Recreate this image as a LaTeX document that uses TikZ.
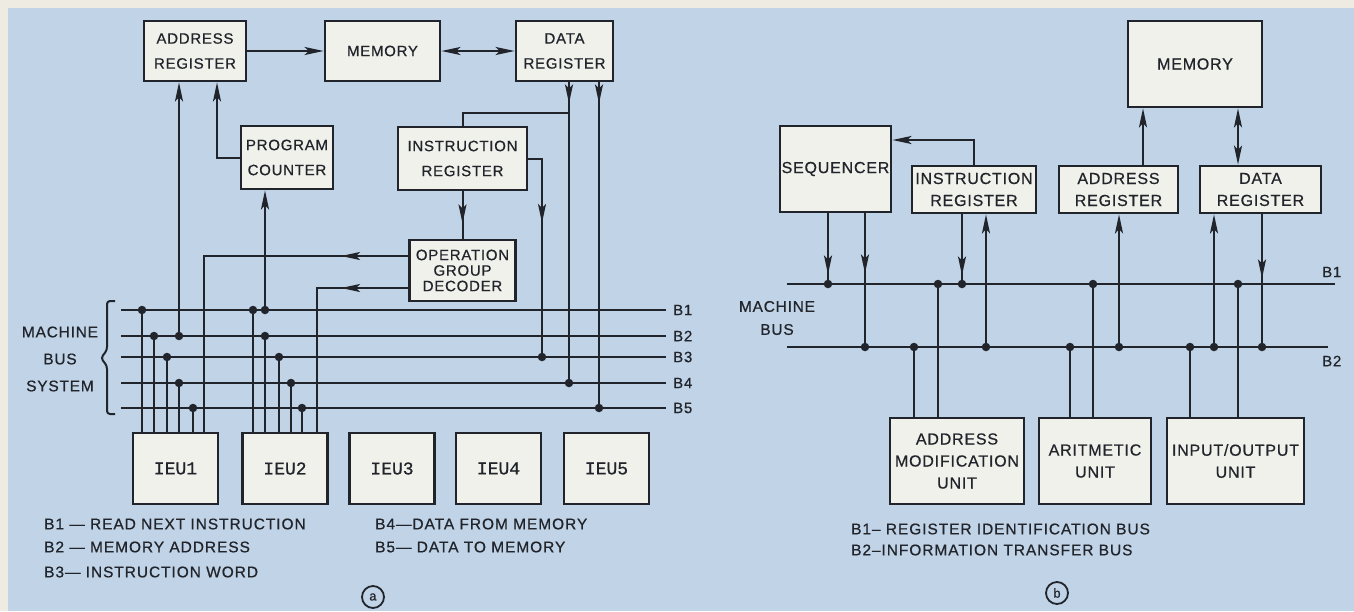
\documentclass[tikz,border=0pt]{standalone}
\usepackage{fontspec}
\setmainfont{Liberation Sans}
\newfontfamily\boxfont{Liberation Sans}[FakeBold=0.6, LetterSpace=5]
\newfontfamily\legfont{Liberation Sans}[FakeBold=0.6, LetterSpace=6]
\newfontfamily\ieufont{Liberation Mono}[FakeBold=0.8]
\usetikzlibrary{arrows.meta,decorations.markings}
\definecolor{bgblue}{RGB}{193,211,231}
\definecolor{paper}{RGB}{238,235,226}
\definecolor{boxfill}{RGB}{241,241,236}
\definecolor{ink}{RGB}{33,36,42}
\tikzset{
  box/.style={draw=ink, line width=2.8pt, fill=boxfill, align=center, inner sep=0pt, text=ink},
  lbox/.style={box, font=\boxfont\fontsize{15}{25}\selectfont},
  rbox/.style={box, font=\boxfont\fontsize{16}{22}\selectfont},
  ieubox/.style={box, font=\ieufont\fontsize{18}{20}\selectfont, minimum width=85pt, minimum height=71pt},
  wire/.style={draw=ink, line width=2pt},
  tip/.style={-{Stealth[length=19pt,width=8pt,inset=4pt]}},
  bitip/.style={{Stealth[length=19pt,width=8pt,inset=4pt]}-{Stealth[length=19pt,width=8pt,inset=4pt]}},
  midtip/.style={postaction={decorate}, decoration={markings, mark=at position #1 with {\arrow{Stealth[length=19pt,width=8pt,inset=4pt]}}}},
  dot/.style={circle, fill=ink, inner sep=0pt, minimum size=8.5pt},
  lbl/.style={text=ink, inner sep=0pt, font=\boxfont\fontsize{15}{18}\selectfont},
  leg/.style={text=ink, inner sep=0pt, anchor=west, font=\legfont\fontsize{15.5}{18}\selectfont},
  tag/.style={circle, draw=ink, line width=1.8pt, inner sep=0pt, minimum size=22pt, text=ink, font=\ieufont\fontsize{13}{13}\selectfont},
}
\begin{document}
\begin{tikzpicture}[x=1pt,y=-1pt]
\useasboundingbox (0,0) rectangle (1354,611);
\fill[paper] (0,0) rectangle (1354,611);
\fill[bgblue] (8,8) rectangle (1354,611);

% ================= (a) =================
\node[lbox, minimum width=102pt, minimum height=60pt] (ar) at (195,51) {ADDRESS\\REGISTER};
\node[lbox, minimum width=115pt, minimum height=60pt] (mem) at (382.5,51) {MEMORY};
\node[lbox, minimum width=97pt, minimum height=60pt] (dr) at (564.5,51) {DATA\\REGISTER};
\node[lbox, minimum width=92pt, minimum height=63pt] (pc) at (287,157.5) {PROGRAM\\COUNTER};
\node[lbox, minimum width=129pt, minimum height=63pt] (ir) at (462.5,158.5) {INSTRUCTION\\REGISTER};
\node[lbox, font=\boxfont\fontsize{15}{15.5}\selectfont, minimum width=106pt, minimum height=61pt] (ogd) at (462.5,270.5) {OPERATION\\GROUP\\DECODER};
\foreach \i/\x in {1/175.5,2/285,3/392,4/498.5,5/606.5}
  \node[ieubox] (ieu\i) at (\x,468.5) {IEU\i};

% buses
\foreach \k/\y in {1/310,2/336,3/357,4/383,5/408} {
  \coordinate (LBw\k) at (121,\y);
  \coordinate (LBe\k) at (666,\y);
  \draw[wire] (LBw\k) -- (LBe\k);
  \node[lbl, anchor=west] (LBt\k) at (673,\y) {B\k};
}

% IEU taps
\foreach \x/\y [count=\i] in {142/310,154/336,167/357,179/383,193/408} {
  \node[dot] (ua\i) at (\x,\y) {};
  \draw[wire] (ua\i.center) -- (ua\i.center |- ieu1.north);
}
\foreach \x/\y [count=\i] in {253/310,265/336,279/357,291/383,302/408} {
  \node[dot] (ub\i) at (\x,\y) {};
  \draw[wire] (ub\i.center) -- (ub\i.center |- ieu2.north);
}

% register connections
\node[dot] (arD) at (179,336) {};
\draw[wire,tip] (arD.center) -- (arD.center |- ar.south);
\node[dot] (pcD) at (265,310) {};
\draw[wire,tip] (pcD.center) -- (pcD.center |- pc.south);
\draw[wire,tip] (pc.west) -| ([xshift=22pt]ar.south);
\draw[wire,tip] (ar.east) -- (mem.west);
\draw[wire,bitip] (mem.east) -- (dr.west);
\node[dot] (dB3) at (542,357) {};
\node[dot] (dB4) at (569,383) {};
\node[dot] (dB5) at (599,408) {};
\draw[wire,midtip=21pt] (dB4.center |- dr.south) -- (dB4.center);
\draw[wire,midtip=21pt] (dB5.center |- dr.south) -- (dB5.center);
\coordinate (j1) at (569,113);
\draw[wire] (j1) -| (ir.north);
\draw[wire,midtip=78pt] (ir.east) -| (dB3.center);
\draw[wire,midtip=32pt] (ir.south) -- (ogd.north);
\draw[wire,midtip=67pt] ([yshift=14.5pt]ogd.west) -| ([xshift=28.5pt]ieu1.north);
\draw[wire,midtip=67pt] ([yshift=-17.5pt]ogd.west) -| ([xshift=32pt]ieu2.north);

% brace and label
\draw[wire, rounded corners=3pt] (115,301) -- (107,301) -- (107,350) -- (101,358) -- (107,366) -- (107,414) -- (115,414);
\node[lbl, align=center, font=\boxfont\fontsize{15.5}{27}\selectfont] (mbs) at (60,359) {MACHINE\\BUS\\SYSTEM};

% legend
\node[leg] (lga1) at (44,524) {B1 — READ NEXT INSTRUCTION};
\node[leg] (lga2) at (44,547) {B2 — MEMORY ADDRESS};
\node[leg] (lga3) at (44,572) {B3— INSTRUCTION WORD};
\node[leg] (lga4) at (375,524) {B4—DATA FROM MEMORY};
\node[leg] (lga5) at (375,547) {B5— DATA TO MEMORY};
\node[tag] (taga) at (373,597) {a};

% ================= (b) =================
\node[rbox, minimum width=111pt, minimum height=86pt] (seq) at (835.5,169) {SEQUENCER};
\node[rbox, minimum width=124pt, minimum height=47pt] (ir2) at (974,189.5) {INSTRUCTION\\REGISTER};
\node[rbox, minimum width=134pt, minimum height=86pt] (mem2) at (1195,64) {MEMORY};
\node[rbox, minimum width=119pt, minimum height=47pt] (ar2) at (1118.5,189.5) {ADDRESS\\REGISTER};
\node[rbox, minimum width=121pt, minimum height=47pt] (dr2) at (1260.5,189.5) {DATA\\REGISTER};
\node[rbox, minimum width=134pt, minimum height=86pt] (amu) at (957,461) {ADDRESS\\MODIFICATION\\UNIT};
\node[rbox, minimum width=112pt, minimum height=86pt] (alu) at (1095,461) {ARITMETIC\\UNIT};
\node[rbox, minimum width=137pt, minimum height=86pt] (io) at (1235.5,461) {INPUT/OUTPUT\\UNIT};

% buses
\coordinate (RBw1) at (787,284);
\coordinate (RBe1) at (1335,284);
\coordinate (RBw2) at (787,347);
\coordinate (RBe2) at (1328,347);
\draw[wire] (RBw1) -- (RBe1);
\draw[wire] (RBw2) -- (RBe2);
\node[lbl, anchor=west] (RBt1) at (1322,272) {B1};
\node[lbl, anchor=west] (RBt2) at (1322,361) {B2};
\node[lbl, align=center, font=\boxfont\fontsize{15.5}{23}\selectfont] (mb) at (777,318) {MACHINE\\BUS};

% sequencer
\node[dot] (sB1) at (828,284) {};
\node[dot] (sB2) at (865,347) {};
\draw[wire,midtip=61pt] (sB1.center |- seq.south) -- (sB1.center);
\draw[wire,midtip=60pt] (sB2.center |- seq.south) -- (sB2.center);
% instruction register
\node[dot] (iB1) at (962,284) {};
\node[dot] (iB2) at (986,347) {};
\draw[wire,midtip=61pt] (iB1.center |- ir2.south) -- (iB1.center);
\draw[wire,tip] (iB2.center) -- (iB2.center |- ir2.south);
\draw[wire,tip] (ir2.north) |- ([yshift=29pt]seq.east);
% units
\node[dot] (aB1) at (938,284) {};
\node[dot] (aB2) at (914,347) {};
\draw[wire] (aB1.center) -- (aB1.center |- amu.north);
\draw[wire] (aB2.center) -- (aB2.center |- amu.north);
\node[dot] (lB1) at (1093,284) {};
\node[dot] (lB2) at (1070,347) {};
\draw[wire] (lB1.center) -- (lB1.center |- alu.north);
\draw[wire] (lB2.center) -- (lB2.center |- alu.north);
\node[dot] (oB1) at (1238,284) {};
\node[dot] (oB2) at (1190,347) {};
\draw[wire] (oB1.center) -- (oB1.center |- io.north);
\draw[wire] (oB2.center) -- (oB2.center |- io.north);
% address / data registers
\node[dot] (rB2) at (1119,347) {};
\draw[wire,tip] (rB2.center) -- (rB2.center |- ar2.south);
\node[dot] (dIn) at (1214,347) {};
\draw[wire,tip] (dIn.center) -- (dIn.center |- dr2.south);
\node[dot] (dOut) at (1262,347) {};
\draw[wire,midtip=64pt] (dOut.center |- dr2.south) -- (dOut.center);
\draw[wire,tip] ([xshift=24.5pt]ar2.north) -- ([xshift=24.5pt]ar2.north |- mem2.south);
\draw[wire,bitip] ([xshift=-22.5pt]dr2.north) -- ([xshift=-22.5pt]dr2.north |- mem2.south);

% legend
\node[leg] (lgb1) at (851,529) {B1– REGISTER IDENTIFICATION BUS};
\node[leg] (lgb2) at (851,550) {B2–INFORMATION TRANSFER BUS};
\node[tag] (tagb) at (1057,593) {b};
\end{tikzpicture}
\end{document}
